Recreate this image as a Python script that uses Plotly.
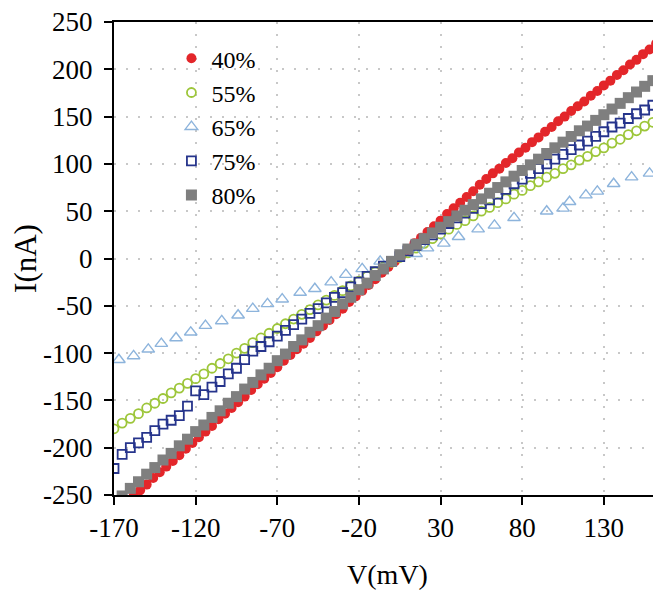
import plotly.graph_objects as go

# ---------------- data ----------------
x_40 = [-170, -166, -162, -158, -154, -150, -146, -142, -138, -134, -130, -126, -122, -118, -114, -110,
        -106, -102, -98, -94, -90, -86, -82, -78, -74, -70, -66, -62, -58, -54, -50, -46, -42, -38,
        -34, -30, -26, -22, -18, -14, -10, -6, -2, 2, 6, 10, 14, 18, 22, 26, 30, 34, 38, 42, 46, 50,
        54, 58, 62, 66, 70, 74, 78, 82, 86, 90, 94, 98, 102, 106, 110, 114, 118, 122, 126, 130, 134,
        138, 142, 146, 150, 154, 158, 162, 166]
y_40 = [-270, -263, -257, -251, -245, -239, -232, -226, -220, -214, -208, -201, -195, -189, -183, -177,
        -170, -164, -158, -152, -146, -139, -133, -127, -121, -115, -108, -102, -96, -90, -84, -77, -71, -65,
        -59, -53, -46, -40, -34, -28, -22, -15, -9, -3, 3, 9, 16, 22, 28, 34, 40, 47, 53, 59, 65, 71,
        78, 84, 90, 95, 101, 106, 112, 117, 123, 128, 134, 139, 145, 150, 156, 161, 166, 172, 177, 183, 188,
        194, 199, 205, 210, 216, 221, 227, 232]

x_55 = [-170, -165, -160, -155, -150, -145, -140, -135, -130, -125, -120, -115, -110, -105, -100, -95,
        -90, -85, -80, -75, -70, -65, -60, -55, -50, -45, -40, -35, -30, -25, -20, -15, -10, -5, 0, 5,
        10, 15, 20, 25, 30, 35, 40, 45, 50, 55, 60, 65, 70, 75, 80, 85, 90, 95, 100, 105, 110, 115,
        120, 125, 130, 135, 140, 145, 150, 155, 160, 165]
y_55 = [-180, -174, -169, -164, -158, -153, -148, -142, -137, -132, -127, -122, -116, -111, -106, -100,
        -95, -89, -84, -79, -74, -69, -64, -59, -54, -49, -44, -39, -34, -29, -24, -19, -14, -9, -4, 1,
        6, 11, 16, 21, 26, 31, 36, 40, 45, 50, 54, 59, 63, 68, 72, 77, 81, 86, 90, 95, 99, 104,
        108, 113, 117, 122, 126, 131, 135, 140, 144, 149]

x_65 = [-167, -158, -149, -141, -132, -123, -114, -104, -94, -85, -76, -67, -56, -47, -37, -28,
        -18, -7, 4, 15, 22, 32, 41, 53, 63, 75, 95, 105, 109, 119, 126, 136, 147, 158]
y_65 = [-107, -103, -96, -90, -84, -78, -71, -66, -60, -53, -48, -43, -36, -32, -25, -17,
        -11, -3, 1, 5, 11, 16, 23, 31, 35, 43, 50, 53, 60, 67, 71, 79, 86, 90]

x_75 = [-170, -165, -160, -155, -150, -145, -140, -135, -130, -125, -120, -115, -110, -105, -100, -95,
        -90, -85, -80, -75, -70, -65, -60, -55, -50, -45, -40, -35, -30, -25, -20, -15, -10, -5, 0, 5,
        10, 15, 20, 25, 30, 35, 40, 45, 50, 55, 60, 65, 70, 75, 80, 85, 90, 95, 100, 105, 110, 115,
        120, 125, 130, 135, 140, 145, 150, 155, 160, 165]
y_75 = [-222, -207, -200, -195, -189, -182, -175, -171, -166, -156, -140, -144, -136, -130, -122, -116,
        -107, -98, -93, -88, -82, -76, -70, -64, -58, -53, -47, -41, -36, -30, -25, -19, -14, -8, -3, 2,
        8, 14, 20, 25, 31, 37, 43, 48, 53, 58, 62, 68, 73, 79, 84, 90, 95, 100, 105, 110, 115, 120,
        124, 129, 134, 139, 143, 148, 153, 157, 162, 166]

x_80 = [-170, -165, -160, -155, -150, -145, -140, -135, -130, -125, -120, -115, -110, -105, -100, -95,
        -90, -85, -80, -75, -70, -65, -60, -55, -50, -45, -40, -35, -30, -25, -20, -15, -10, -5, 0, 5,
        10, 15, 20, 25, 30, 35, 40, 45, 50, 55, 60, 65, 70, 75, 80, 85, 90, 95, 100, 105, 110, 115,
        120, 125, 130, 135, 140, 145, 150, 155, 160, 165]
y_80 = [-258, -251, -243, -236, -228, -221, -213, -206, -198, -191, -183, -176, -168, -161, -153, -146,
        -138, -131, -123, -116, -108, -101, -93, -86, -78, -71, -63, -56, -48, -41, -33, -26, -18, -11, -3, 4,
        10, 15, 21, 27, 33, 39, 45, 51, 57, 63, 69, 75, 81, 87, 93, 99, 105, 111, 117, 123, 129, 135,
        140, 146, 152, 158, 164, 170, 176, 182, 188, 194]

x_ticks = [-170, -120, -70, -20, 30, 80, 130]
x_tick_labels = ["-170", "-120", "-70", "-20", "30", "80", "130"]
y_ticks = [-250, -200, -150, -100, -50, 0, 50, 100, 150, 200, 250]
y_tick_labels = ["-250", "-200", "-150", "-100", "-50", "0", "50", "100", "150", "200", "250"]

FONT = "Liberation Serif"

fig = go.Figure()
fig.add_trace(go.Scatter(x=x_40, y=y_40, mode="markers", name="40%",
                         marker=dict(symbol="circle", size=10, color="#e3262a")))
fig.add_trace(go.Scatter(x=x_55, y=y_55, mode="markers", name="55%",
                         marker=dict(symbol="circle-open", size=9, color="#9dc63a",
                                     line=dict(width=1.8, color="#9dc63a"))))
fig.add_trace(go.Scatter(x=x_65, y=y_65, mode="markers", name="65%",
                         marker=dict(symbol="triangle-up-open", size=11, color="#8db4dc",
                                     line=dict(width=1.4, color="#8db4dc"))))
fig.add_trace(go.Scatter(x=x_75, y=y_75, mode="markers", name="75%",
                         marker=dict(symbol="square-open", size=9, color="#26348c",
                                     line=dict(width=1.8, color="#26348c"))))
fig.add_trace(go.Scatter(x=x_80, y=y_80, mode="markers", name="80%",
                         marker=dict(symbol="square", size=11, color="#7f7f7f")))

axis_common = dict(
    showline=True, linecolor="black", linewidth=2,
    ticks="outside", ticklen=8, tickwidth=2, tickcolor="black",
    showgrid=True, gridcolor="#c8c8c8", gridwidth=1.5, griddash="2px,10px",
    zeroline=False, ticklabeloverflow="allow",
    tickfont=dict(family=FONT, size=27, color="black"),
)

fig.update_xaxes(range=[-170, 165], tickvals=x_ticks, ticktext=x_tick_labels, mirror=True,
                 title=dict(text="V(mV)", font=dict(family=FONT, size=28, color="black"), standoff=22),
                 **axis_common)
fig.update_yaxes(range=[-250, 250], tickvals=y_ticks, ticktext=y_tick_labels,
                 ticklabelstandoff=6,
                 title=dict(text="I(nA)", font=dict(family=FONT, size=31, color="black"), standoff=0),
                 **axis_common)

fig.update_layout(
    width=653, height=583,
    margin=dict(l=106, r=0, t=14, b=96, autoexpand=False),
    paper_bgcolor="white", plot_bgcolor="white",
    font=dict(family=FONT, color="black"),
    legend=dict(x=0.105, y=0.97, xanchor="left", yanchor="top",
                font=dict(family=FONT, size=24, color="black"),
                bgcolor="rgba(0,0,0,0)", borderwidth=0,
                itemwidth=30, tracegroupgap=0),
    showlegend=True,
)

fig.write_html("out.html")
